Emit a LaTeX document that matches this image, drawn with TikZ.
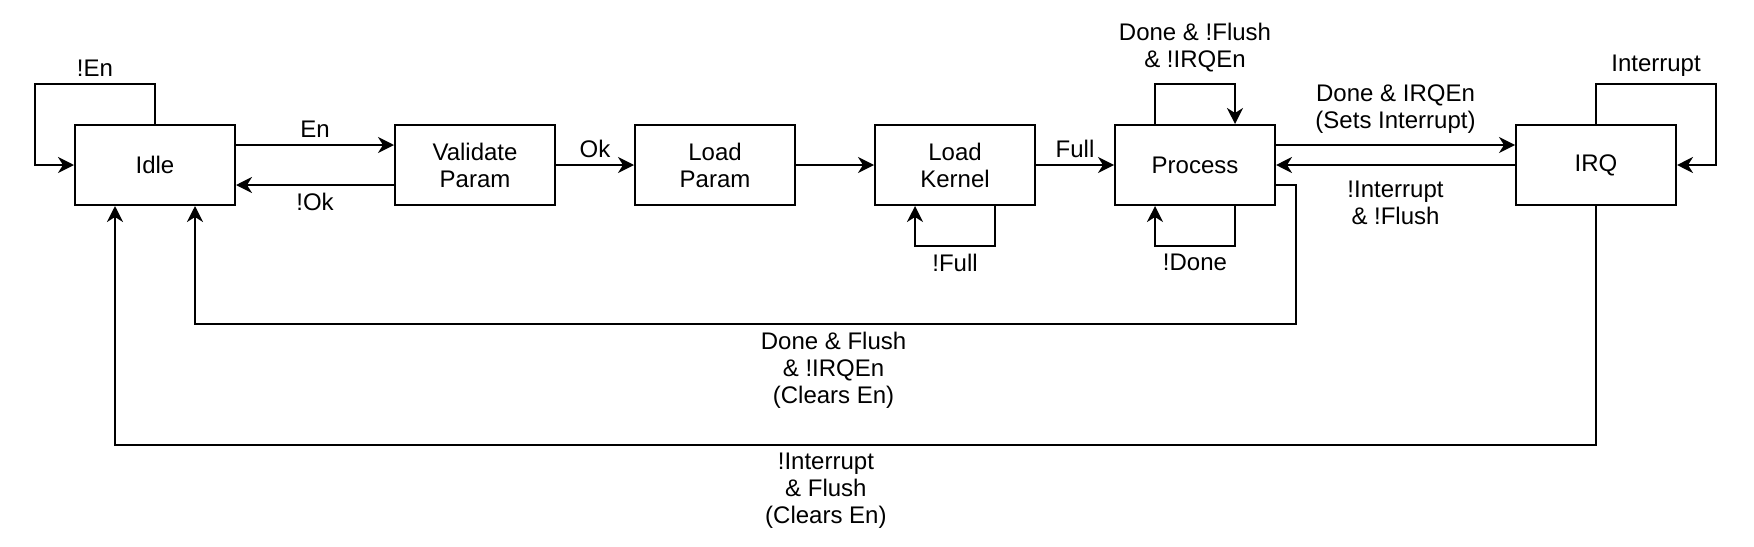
\documentclass[tikz,border=0pt]{standalone}
\usepackage{fontspec}
\setmainfont{Liberation Sans}
\usetikzlibrary{arrows.meta}

\begin{document}
\begin{tikzpicture}
		[x=.5pt,y=-.5pt,line width=1pt,
		>={Stealth[length=8pt,width=8pt,inset=2.5pt]},
		every node/.style={font=\fontsize{12pt}{13.5pt}\selectfont},
		box/.style={draw,minimum width=80pt,minimum height=40pt,align=center}]
		\useasboundingbox (0,0) rectangle (1754,546);

		\node[box] (n1) at (155,165) {Idle};
		\node[box] (n2) at (475,165) {Validate\\Param};
		\node[box] (n3) at (715,165) {Load\\Param};
		\node[box] (n4) at (955,165) {Load\\Kernel};
		\node[box] (n5) at (1195,165) {Process};
		\node[box] (n6) at (1596,165) {IRQ};

		\draw[->] (n1.north) |- ++(-120,-40) node[pos=.75,above] {!En} |- (n1.west);
		\draw[->] ([yshift=10pt]n1.east) -- ([yshift=10pt]n2.west) node[midway,above] {En};
		\draw[->] ([yshift=-10pt]n2.west) -- ([yshift=-10pt]n1.east) node[midway,below] {!Ok};
		\draw[->] (n2) -- (n3) node[midway,above] {Ok};
		\draw[->] (n3) -- (n4);
		\draw[->] (n4) -- (n5) node[midway,above] {Full};
		\draw[->] ([xshift=20pt]n4.south) |- ++(-80,40) node[pos=.75,below] {!Full} -- ([xshift=-20pt]n4.south);
		\draw[->] ([xshift=20pt]n5.south) |- ++(-80,40) node[pos=.75,below] {!Done} -- ([xshift=-20pt]n5.south);
		\draw[->] ([xshift=-20pt]n5.north) |- ++(80,-40) node[pos=.75,above=2pt,align=center] {Done \& !Flush\\\& !IRQEn} -- ([xshift=20pt]n5.north);
		\draw[->] ([yshift=10pt]n5.east) -- ([yshift=10pt]n6.west) node[midway,above=2pt,align=center] {Done \& IRQEn\\(Sets Interrupt)};
		\draw[->] (n6) -- (n5) node[midway,below=4pt,align=center] {!Interrupt\\\& !Flush};
		\draw[->] (n6.north) |- ++(120,-40) node[pos=.75,above] {Interrupt} |- (n6.east);
		\draw[->] ([yshift=-10pt]n5.east) -- ++(20,0) -- ++(0,139) -| ([xshift=20pt]n1.south) node[pos=.21,below,align=center] {Done \& Flush\\\& !IRQEn\\(Clears En)};
		\draw[->] (n6.south) -- ++(0,239) -| ([xshift=-20pt]n1.south) node[pos=.26,below,align=center] {!Interrupt\\\& Flush\\(Clears En)};

	\end{tikzpicture}
\end{document}
